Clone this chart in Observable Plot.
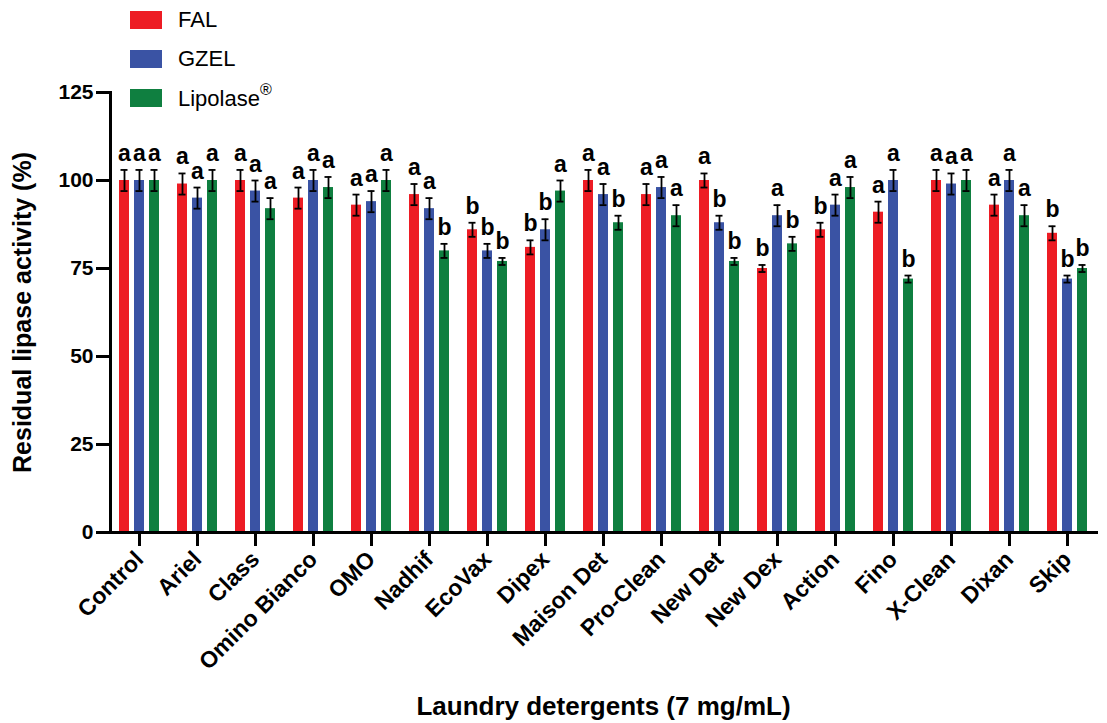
<!DOCTYPE html>
<html><head><meta charset="utf-8">
<script src="https://cdn.jsdelivr.net/npm/d3@7"></script>
<script src="https://cdn.jsdelivr.net/npm/@observablehq/plot@0.6"></script>
<style>
body{margin:0;background:#fff;font-family:"Liberation Sans",Arial,sans-serif}
#wrap{position:relative;width:1107px;height:723px}
#legend{position:absolute;left:130px;top:0}
.item{position:absolute;left:0;height:20px;display:flex;align-items:center;font-size:22px;white-space:nowrap;color:#000}
.sw{width:32px;height:18px;margin-right:16px;flex:none}
sup{font-size:16px;position:relative;top:-3px}
</style></head><body><div id="wrap"><div id="legend"></div></div>
<script>
const categories = ["Control","Ariel","Class","Omino Bianco","OMO","Nadhif","EcoVax","Dipex","Maison Det","Pro-Clean","New Det","New Dex","Action","Fino","X-Clean","Dixan","Skip"];
const series = ["FAL","GZEL","Lipolase®"];
const colors = ["#ED1C24","#3A53A4","#0F7F40"];

const falValues  = [100,99,100,95,93,96,86,81,100,96,100,75,86,91,100,93,85];
const falErrors  = [3,3,3,3,3,3,2,2,3,3,2,1,2,3,3,3,2];
const falLetters = ["a","a","a","a","a","a","b","b","a","a","a","b","b","a","a","a","b"];

const gzelValues  = [100,95,97,100,94,92,80,86,96,98,88,90,93,100,99,100,72];
const gzelErrors  = [3,3,3,3,3,3,2,3,3,3,2,3,3,3,3,3,1];
const gzelLetters = ["a","a","a","a","a","a","b","b","a","a","b","a","a","a","a","a","b"];

const lipValues  = [100,100,92,98,100,80,77,97,88,90,77,82,98,72,100,90,75];
const lipErrors  = [3,3,3,3,3,2,1,3,2,3,1,2,3,1,3,3,1];
const lipLetters = ["a","a","a","a","a","b","b","a","b","a","b","b","a","b","a","a","b"];

const yTicks = [0,25,50,75,100,125];

const valueSets = [falValues, gzelValues, lipValues];
const errorSets = [falErrors, gzelErrors, lipErrors];
const letterSets = [falLetters, gzelLetters, lipLetters];

const rows = [];
categories.forEach((cat, i) => {
  series.forEach((s, j) => {
    const v = valueSets[j][i], e = errorSets[j][i];
    rows.push({cat, series: s, value: v, lo: v - e, hi: v + e, sig: letterSets[j][i]});
  });
});

const font = '"Liberation Sans", Arial, sans-serif';

const chart = Plot.plot({
  width: 1107, height: 723,
  marginLeft: 104, marginRight: 5, marginTop: 92, marginBottom: 191,
  style: {fontFamily: font, color: "#000", background: "#fff"},
  fx: {domain: categories, paddingInner: 0, paddingOuter: 0, label: null},
  x: {domain: series, paddingInner: 0.3125, paddingOuter: 0.485, axis: null},
  y: {domain: [0, 125]},
  color: {domain: series, range: colors},
  marks: [
    Plot.barY(rows, {fx: "cat", x: "series", y: "value", fill: "series"}),
    Plot.ruleX(rows, {fx: "cat", x: "series", y1: "lo", y2: "hi", stroke: "#000", strokeWidth: 1.8}),
    Plot.tickY(rows, {fx: "cat", x: "series", y: "lo", stroke: "#000", strokeWidth: 1.8, insetLeft: 1.5, insetRight: 1.5}),
    Plot.tickY(rows, {fx: "cat", x: "series", y: "hi", stroke: "#000", strokeWidth: 1.8, insetLeft: 1.5, insetRight: 1.5}),
    Plot.text(rows, {fx: "cat", x: "series", y: "hi", text: "sig", dy: -9, lineAnchor: "bottom", fontSize: 23, fontWeight: "bold", fill: "#000"}),
    Plot.frame({anchor: "left", facet: "super", stroke: "#000", strokeWidth: 3}),
    Plot.frame({anchor: "bottom", facet: "super", stroke: "#000", strokeWidth: 3}),
    Plot.axisY({ticks: yTicks, tickSize: 14, tickPadding: 3, strokeWidth: 3, fontSize: 21, fontWeight: "bold", label: null}),
    Plot.axisY({ticks: [], label: "Residual lipase activity (%)", labelArrow: false, labelAnchor: "center", labelOffset: 97, fontSize: 25, fontWeight: "bold"}),
    Plot.axisFx({anchor: "bottom", tickSize: 14, tickPadding: 9, strokeWidth: 3, tickRotate: -45, fontSize: 23, fontWeight: "bold", label: null}),
    Plot.axisFx({anchor: "bottom", ticks: [], label: "Laundry detergents (7 mg/mL)", labelArrow: false, labelAnchor: "center", labelOffset: 182, fontSize: 26, fontWeight: "bold"})
  ]
});
document.getElementById("wrap").appendChild(chart);

const legend = document.getElementById("legend");
series.forEach((s, j) => {
  const item = document.createElement("div");
  item.className = "item";
  item.style.top = (10 + j * 39) + "px";
  const sw = document.createElement("div");
  sw.className = "sw";
  sw.style.background = colors[j];
  item.appendChild(sw);
  const label = document.createElement("span");
  if (s.endsWith("®")) {
    label.textContent = s.slice(0, -1);
    const sup = document.createElement("sup");
    sup.textContent = "®";
    label.appendChild(sup);
  } else label.textContent = s;
  item.appendChild(label);
  legend.appendChild(item);
});
</script></body></html>
